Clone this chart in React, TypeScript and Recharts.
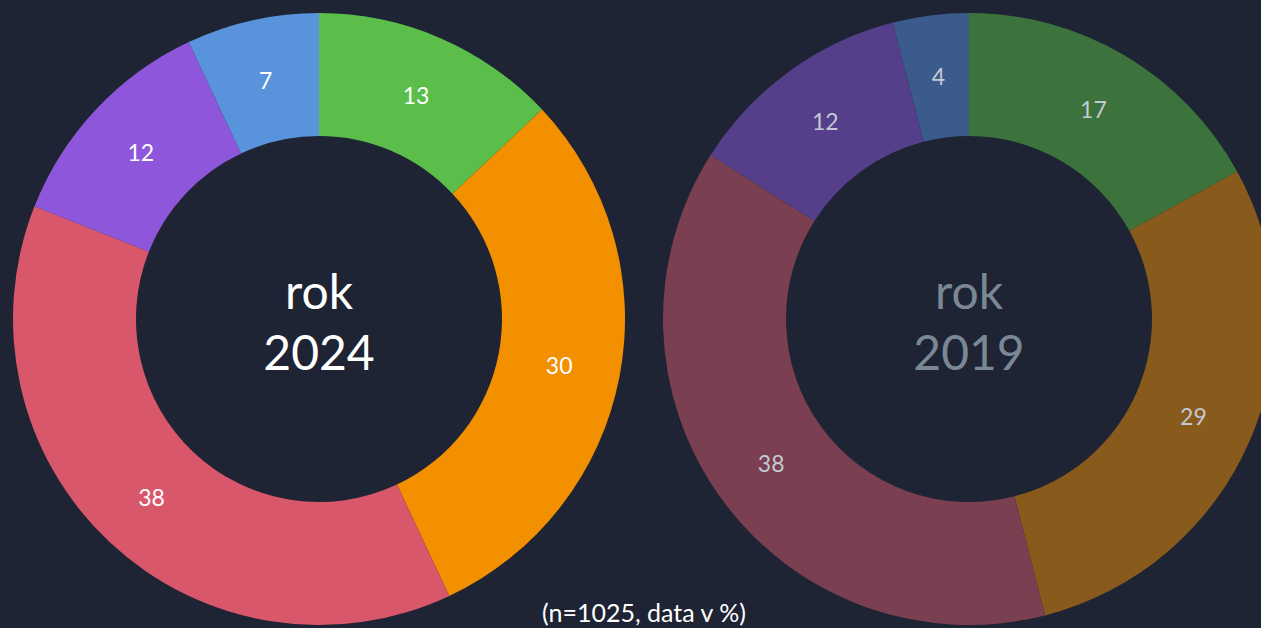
import React from "react";
import { PieChart, Pie, Cell } from "recharts";

const categories = ["A", "B", "C", "D", "E"];
const values2024 = [13, 30, 38, 12, 7];
const values2019 = [17, 29, 38, 12, 4];

const colors2024 = ["#5bbd4a", "#f39000", "#d9576b", "#8e57db", "#5893dc"];
const colors2019 = ["#3c733d", "#885a1c", "#7a3f50", "#553e8a", "#3a5b8b"];

const data2024 = categories.map((c, i) => ({ name: c, value: values2024[i] }));
const data2019 = categories.map((c, i) => ({ name: c, value: values2019[i] }));

const FONT = "Lato, 'Open Sans', sans-serif";
const RADIAN = Math.PI / 180;

const makeLabel = (fill: string) => (props: any) => {
  const { cx, cy, midAngle, innerRadius, outerRadius, value } = props;
  const r = (innerRadius + outerRadius) / 2;
  const x = cx + r * Math.cos(-midAngle * RADIAN);
  const y = cy + r * Math.sin(-midAngle * RADIAN);
  return (
    <text
      x={x}
      y={y}
      fill={fill}
      textAnchor="middle"
      dominantBaseline="central"
      fontSize={23}
      fontFamily={FONT}
    >
      {value}
    </text>
  );
};

const CenterText = ({ x, year, color }: { x: number; year: string; color: string }) => (
  <div
    style={{
      position: "absolute",
      left: x - 150,
      width: 300,
      top: 260,
      textAlign: "center",
      color,
      fontSize: 48,
      lineHeight: "61px",
      fontFamily: FONT,
    }}
  >
    rok
    <br />
    {year}
  </div>
);

export default function App() {
  return (
    <div
      style={{
        position: "fixed",
        top: 0,
        left: 0,
        width: 1261,
        height: 628,
        background: "#1e2434",
        overflow: "hidden",
      }}
    >
      <PieChart width={1261} height={628} margin={{ top: 0, right: 0, bottom: 0, left: 0 }}>
        <Pie
          data={data2024}
          dataKey="value"
          cx={319}
          cy={319}
          innerRadius={183}
          outerRadius={306}
          startAngle={90}
          endAngle={-270}
          stroke="none"
          labelLine={false}
          label={makeLabel("#ffffff")}
          isAnimationActive={false}
        >
          {data2024.map((d, i) => (
            <Cell key={d.name} fill={colors2024[i]} />
          ))}
        </Pie>
        <Pie
          data={data2019}
          dataKey="value"
          cx={969}
          cy={319}
          innerRadius={183}
          outerRadius={306}
          startAngle={90}
          endAngle={-270}
          stroke="none"
          labelLine={false}
          label={makeLabel("#c3c9d2")}
          isAnimationActive={false}
        >
          {data2019.map((d, i) => (
            <Cell key={d.name} fill={colors2019[i]} />
          ))}
        </Pie>
      </PieChart>
      <CenterText x={319} year="2024" color="#ffffff" />
      <CenterText x={969} year="2019" color="#7a8896" />
      <div
        style={{
          position: "absolute",
          left: 0,
          width: 1288,
          top: 597,
          textAlign: "center",
          color: "#ffffff",
          fontSize: 25,
          fontFamily: FONT,
        }}
      >
        (n=1025, data v %)
      </div>
    </div>
  );
}
